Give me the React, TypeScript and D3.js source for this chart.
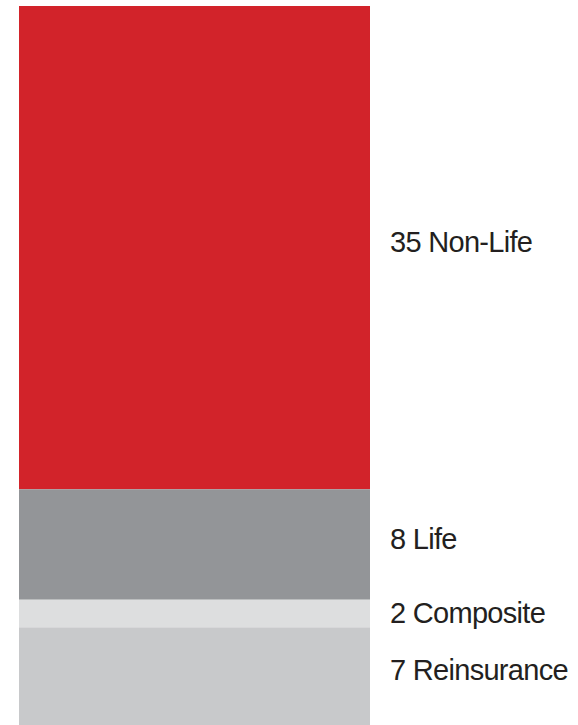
import React from "react";
import * as d3 from "d3";

const categories = ["Non-Life", "Life", "Composite", "Reinsurance"];
const values = [35, 8, 2, 7];
const colors = ["#d2232a", "#939598", "#dddedf", "#c8c9cb"];

export default function App() {
  const width = 578;
  const height = 725;
  const barX0 = 19;
  const barX1 = 370;
  const total = d3.sum(values);
  const y = d3.scaleLinear().domain([0, total]).range([6, 724]);
  let acc = 0;
  const segs = values.map((v, i) => {
    const s = { cat: categories[i], v, y0: y(acc), y1: y(acc + v), color: colors[i] };
    acc += v;
    return s;
  });
  return (
    <svg
      width={width}
      height={height}
      style={{ position: "fixed", left: 0, top: 0, background: "#fff" }}
    >
      {segs.map((s) => (
        <rect
          key={s.cat}
          x={barX0}
          y={s.y0}
          width={barX1 - barX0}
          height={s.y1 - s.y0 + (s === segs[segs.length - 1] ? 2 : 0)}
          fill={s.color}
        />
      ))}
      {segs.map((s) => {
        const mid = (s.y0 + s.y1) / 2;
        const off = s.y1 - s.y0 > 40 ? -6 : -1;
        return (
          <text
            key={"t" + s.cat}
            x={390}
            y={mid + off}
            dy="0.36em"
            fontFamily="'Liberation Sans', Arial, sans-serif"
            fontSize={29}
            fill="#231f20"
            style={{ letterSpacing: "-0.7px" }}
          >
            {`${s.v} ${s.cat}`}
          </text>
        );
      })}
    </svg>
  );
}
